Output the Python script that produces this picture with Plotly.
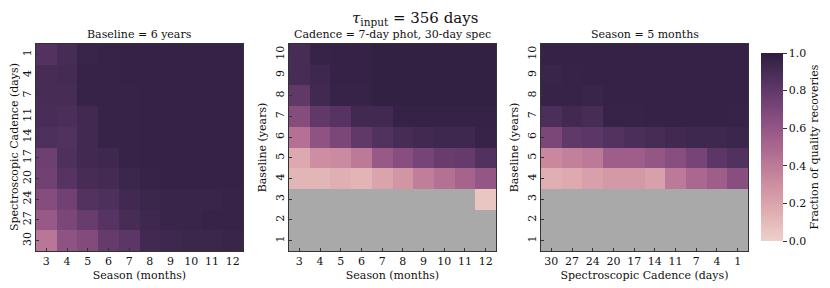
import numpy as np
import plotly.graph_objects as go

# ---------------- data ----------------
season = [3, 4, 5, 6, 7, 8, 9, 10, 11, 12]
cadence_rows = ["1", "4", "7", "11", "14", "17", "20", "24", "27", "30"]
baseline = [1, 2, 3, 4, 5, 6, 7, 8, 9, 10]
cadence_cols = ["30", "27", "24", "20", "17", "14", "11", "7", "4", "1"]

# Panel 1: Baseline = 6 years; rows = spectroscopic cadence, cols = season
z_base6 = [
    [0.85, 0.90, 0.95, 0.96, 0.97, 0.97, 0.97, 0.97, 0.97, 0.97],
    [0.90, 0.91, 0.96, 0.96, 0.97, 0.97, 0.97, 0.97, 0.97, 0.97],
    [0.90, 0.90, 0.96, 0.96, 0.96, 0.97, 0.97, 0.97, 0.97, 0.97],
    [0.89, 0.88, 0.92, 0.96, 0.96, 0.97, 0.97, 0.97, 0.97, 0.97],
    [0.87, 0.86, 0.92, 0.96, 0.96, 0.97, 0.97, 0.97, 0.97, 0.97],
    [0.75, 0.87, 0.92, 0.93, 0.96, 0.97, 0.97, 0.97, 0.97, 0.97],
    [0.74, 0.84, 0.90, 0.91, 0.94, 0.96, 0.97, 0.97, 0.97, 0.97],
    [0.66, 0.74, 0.85, 0.87, 0.92, 0.94, 0.95, 0.95, 0.95, 0.96],
    [0.58, 0.70, 0.77, 0.84, 0.90, 0.93, 0.95, 0.95, 0.96, 0.96],
    [0.42, 0.62, 0.67, 0.78, 0.82, 0.92, 0.93, 0.94, 0.94, 0.95],
]

# Panel 2: Cadence = 7-day phot, 30-day spec; rows = baseline 1..10, cols = season
nan = None
z_cad = [
    [nan] * 10,
    [nan] * 10,
    [nan, nan, nan, nan, nan, nan, nan, nan, nan, 0.05],
    [0.12, 0.12, 0.15, 0.13, 0.20, 0.27, 0.38, 0.45, 0.52, 0.60],
    [0.18, 0.30, 0.32, 0.40, 0.58, 0.65, 0.72, 0.77, 0.78, 0.86],
    [0.45, 0.62, 0.70, 0.80, 0.86, 0.90, 0.92, 0.93, 0.93, 0.96],
    [0.66, 0.80, 0.84, 0.92, 0.92, 0.97, 0.97, 0.97, 0.97, 0.97],
    [0.80, 0.92, 0.96, 0.96, 0.98, 0.98, 0.98, 0.98, 0.98, 0.98],
    [0.90, 0.93, 0.97, 0.97, 0.98, 0.98, 0.98, 0.98, 0.98, 0.98],
    [0.90, 0.96, 0.97, 0.97, 0.98, 0.98, 0.98, 0.98, 0.98, 0.98],
]

# Panel 3: Season = 5 months; rows = baseline 1..10, cols = spectroscopic cadence
z_seas = [
    [nan] * 10,
    [nan] * 10,
    [nan] * 10,
    [0.15, 0.17, 0.22, 0.25, 0.25, 0.22, 0.40, 0.50, 0.55, 0.65],
    [0.33, 0.37, 0.40, 0.55, 0.55, 0.60, 0.65, 0.72, 0.82, 0.86],
    [0.70, 0.80, 0.82, 0.85, 0.88, 0.90, 0.92, 0.93, 0.93, 0.94],
    [0.88, 0.92, 0.90, 0.96, 0.96, 0.97, 0.97, 0.97, 0.97, 0.96],
    [0.96, 0.96, 0.95, 0.97, 0.97, 0.97, 0.97, 0.97, 0.97, 0.97],
    [0.95, 0.96, 0.97, 0.97, 0.97, 0.97, 0.97, 0.97, 0.97, 0.97],
    [0.97, 0.97, 0.97, 0.97, 0.97, 0.97, 0.97, 0.97, 0.97, 0.97],
]

# ---------------- colormap (seaborn default cubehelix) ----------------
def cubehelix(x, start=0.0, rot=0.4, gamma=1.0, hue=0.8):
    xg = x ** gamma
    a = hue * xg * (1 - xg) / 2
    phi = 2 * np.pi * (start / 3 + rot * x)
    r = xg + a * (-0.14861 * np.cos(phi) + 1.78277 * np.sin(phi))
    g = xg + a * (-0.29227 * np.cos(phi) - 0.90649 * np.sin(phi))
    b = xg + a * (1.97294 * np.cos(phi))
    return [min(max(c, 0), 1) for c in (r, g, b)]

cscale = []
for v in np.linspace(0, 1, 33):
    r, g, b = cubehelix(0.85 - 0.70 * v)
    cscale.append([float(v), f"rgb({int(round(r*255))},{int(round(g*255))},{int(round(b*255))})"])

FONT = "DejaVu Serif"
FS = 11
OFF = 8                     # page body margin in the browser
W, H = 830 - OFF, 288 - OFF  # figure size so that it fits the window

def px_x(p):
    return (p - OFF) / W

def px_y(p):
    return 1 - (p - OFF) / H

top_px, bot_px = 44, 251
ydom = [px_y(bot_px), px_y(top_px)]
xdoms = [[px_x(36), px_x(243)], [px_x(289), px_x(496)], [px_x(541), px_x(748)]]

text_font = dict(family=FONT, size=FS, color="#111")

fig = go.Figure()
common = dict(colorscale=cscale, zmin=0, zmax=1, hoverongaps=False)
fig.add_trace(go.Heatmap(z=z_base6, x=season, y=cadence_rows, xaxis="x", yaxis="y",
                         showscale=False, **common))
fig.add_trace(go.Heatmap(z=z_cad, x=season, y=baseline, xaxis="x2", yaxis="y2",
                         showscale=False, **common))
fig.add_trace(go.Heatmap(z=z_seas, x=cadence_cols, y=baseline, xaxis="x3", yaxis="y3",
                         showscale=True,
                         colorbar=dict(
                             x=px_x(761), xanchor="left", thickness=22, xpad=0, ypad=0,
                             y=(px_y(53) + px_y(241)) / 2, yanchor="middle", len=188 / H,
                             lenmode="fraction",
                             outlinewidth=0, ticks="outside", ticklen=4, tickwidth=1,
                             tickcolor="#333", tickvals=[0, 0.2, 0.4, 0.6, 0.8, 1.0],
                             ticktext=["0.0", "0.2", "0.4", "0.6", "0.8", "1.0"],
                             tickfont=text_font,
                             title=dict(text="Fraction of quality recoveries", side="right",
                                        font=text_font),
                         ),
                         **common))

axis_style = dict(showline=True, mirror=True, linecolor="#333", linewidth=1, automargin=False,
                  ticks="inside", ticklen=3, tickcolor="#333", showgrid=False, zeroline=False,
                  tickfont=text_font)

fig.update_layout(
    width=W, height=H, margin=dict(l=0, r=0, t=0, b=0, autoexpand=False),
    paper_bgcolor="white", plot_bgcolor="#a9a9a9",
    showlegend=False,
    xaxis=dict(domain=xdoms[0], anchor="y", range=[2.5, 12.5], tickvals=season,
               title=dict(text="Season (months)", font=text_font, standoff=4), **axis_style),
    yaxis=dict(domain=ydom, anchor="x", type="category", autorange="reversed", tickangle=-90,
               **axis_style),
    xaxis2=dict(domain=xdoms[1], anchor="y2", range=[2.5, 12.5], tickvals=season,
                title=dict(text="Season (months)", font=text_font, standoff=4), **axis_style),
    yaxis2=dict(domain=ydom, anchor="x2", range=[0.5, 10.5], tickvals=baseline, tickangle=-90,
                title=dict(text="Baseline (years)", font=text_font, standoff=4), **axis_style),
    xaxis3=dict(domain=xdoms[2], anchor="y3", type="category", categoryorder="array",
                categoryarray=cadence_cols,
                title=dict(text="Spectroscopic Cadence (days)", font=text_font, standoff=4),
                **axis_style),
    yaxis3=dict(domain=ydom, anchor="x3", range=[0.5, 10.5], tickvals=baseline, tickangle=-90,
                title=dict(text="Baseline (years)", font=text_font, standoff=4), **axis_style),
)

# y-axis title of the first panel as a rotated annotation
fig.add_annotation(text="Spectroscopic Cadence (days)", x=px_x(14.5), y=(ydom[0] + ydom[1]) / 2,
                   xref="paper", yref="paper", xanchor="center", yanchor="middle",
                   textangle=-90, showarrow=False, borderpad=0, font=text_font)

titles = ["Baseline = 6 years", "Cadence = 7-day phot, 30-day spec", "Season = 5 months"]
for dom, t in zip(xdoms, titles):
    fig.add_annotation(text=t, x=(dom[0] + dom[1]) / 2, y=ydom[1], xref="paper", yref="paper",
                       xanchor="center", yanchor="bottom", yshift=1, showarrow=False,
                       font=text_font)

fig.add_annotation(text="<i>τ</i><sub>input</sub> = 356 days", x=px_x(415), y=1,
                   xref="paper", yref="paper", xanchor="center", yanchor="top",
                   showarrow=False, borderpad=0, font=dict(family=FONT, size=15, color="#111"))

fig.write_html("out.html")
